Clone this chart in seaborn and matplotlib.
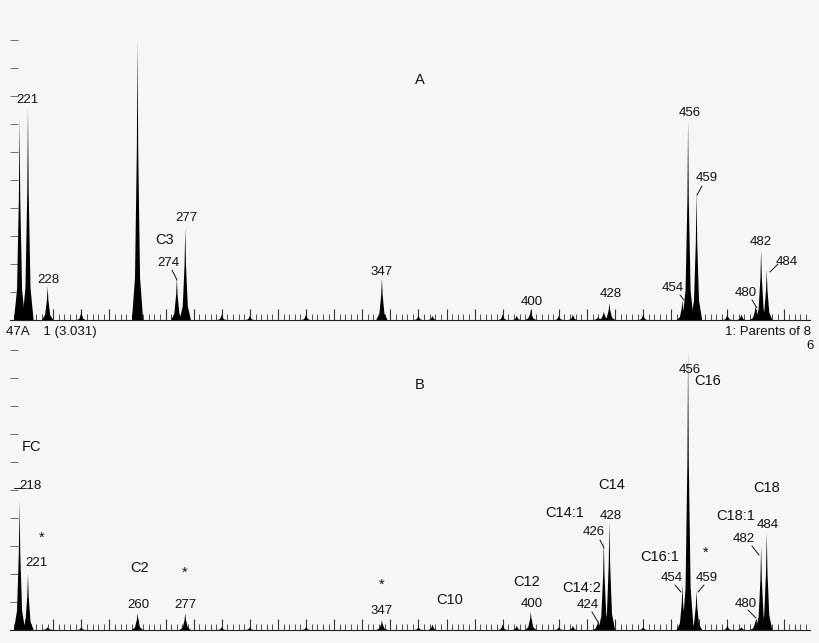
import matplotlib
matplotlib.use("Agg")
import matplotlib.pyplot as plt
import seaborn as sns
import numpy as np

sns.set_style("white")
plt.rcParams['font.family'] = ['Liberation Sans', 'DejaVu Sans']

mz = [218, 221, 228, 260, 274, 277, 347, 400, 424, 426, 428, 454, 456, 459, 480, 482, 484]
int_a = [0.72, 0.76, 0.12, 1.0, 0.15, 0.33, 0.15, 0.035, 0.01, 0.03, 0.06, 0.07, 0.71, 0.46, 0.05, 0.25, 0.18]
int_b = [0.46, 0.20, 0.01, 0.06, 0.0, 0.06, 0.035, 0.065, 0.035, 0.32, 0.39, 0.16, 1.0, 0.14, 0.035, 0.30, 0.35]
noise_mz = [240, 290, 300, 320, 360, 365, 390, 395, 410, 415, 440, 470, 475]
noise_a = [0.03, 0.02, 0.015, 0.02, 0.015, 0.015, 0.02, 0.015, 0.015, 0.02, 0.02, 0.02, 0.02]
noise_b = [0.01, 0.01, 0.01, 0.01, 0.01, 0.02, 0.02, 0.015, 0.01, 0.015, 0.01, 0.015, 0.01]

W, H = 820, 643
bg = '#f6f6f6'
fig = plt.figure(figsize=(W / 100, H / 100), dpi=100, facecolor=bg)

def ax_at(top, base):
    ax = fig.add_axes([10 / W, (H - base) / H, 800 / W, (base - top) / H])
    ax.set_facecolor(bg)
    ax.set_xlim(214.6, 499.4)
    ax.set_ylim(0, 1)
    for s in ['top', 'right', 'left']:
        ax.spines[s].set_visible(False)
    ax.spines['bottom'].set_color('#222')
    ax.set_xticks(np.arange(220, 500, 10))
    ax.set_xticks(np.arange(216, 500, 2), minor=True)
    ax.tick_params(axis='x', which='major', direction='in', length=8, width=0.8,
                   labelbottom=False, color='#333', bottom=True)
    ax.tick_params(axis='x', which='minor', direction='in', length=4, width=0.6,
                   color='#333', bottom=True)
    ax.set_yticks(np.arange(0.1, 1.01, 0.1))
    ax.tick_params(axis='y', direction='in', length=6, width=0.6, labelleft=False,
                   color='#555', left=True)
    return ax

def peaks(ax, xs, ys, w):
    for x, y in zip(xs, ys):
        if y > 0:
            ax.fill([x - w, x - w * 0.45, x - 0.25, x, x + 0.25, x + w * 0.45, x + w],
                    [0, y * 0.15, y * 0.6, y, y * 0.6, y * 0.15, 0], color='black', lw=0)

ax_a = ax_at(40, 320)
ax_b = ax_at(350, 630)
for ax, ii, nn in [(ax_a, int_a, noise_a), (ax_b, int_b, noise_b)]:
    peaks(ax, mz, ii, 2.0)
    peaks(ax, noise_mz, nn, 1.5)

def t(x, y, s, size=9.5, ha='center'):
    fig.text(x / W, 1 - y / H, s, fontsize=size, ha=ha, va='center', color='#111')

def ln(x0, y0, x1, y1):
    fig.add_artist(plt.Line2D([x0 / W, x1 / W], [1 - y0 / H, 1 - y1 / H], color='#111', lw=0.7))

# panel A
t(420, 80, 'A', 10.5)
for x, y, s in [(27, 100, '221'), (48, 280, '228'), (168, 263, '274'), (186, 218, '277'),
                (382, 272, '347'), (532, 302, '400'), (611, 294, '428'), (673, 288, '454'),
                (690, 113, '456'), (707, 178, '459'), (746, 293, '480'), (761, 242, '482'),
                (787, 262, '484')]:
    t(x, y, s)
t(165, 240, 'C3', 10.5)
ln(172, 270, 177, 280); ln(680, 295, 684, 300); ln(702, 186, 697, 195)
ln(752, 300, 757, 308); ln(778, 264, 770, 272)
t(6, 332, '47A    1 (3.031)', 9.5, 'left')
t(811, 332, '1: Parents of 8', 9.5, 'right')
t(806, 346, '6', 9.5, 'left')

# panel B
t(420, 385, 'B', 10.5)
t(32, 447, 'FC', 10.5)
t(30, 486, '218'); ln(14, 488, 21, 488)
for x, y, s in [(36, 563, '221'), (138, 605, '260'), (185, 605, '277'), (382, 611, '347'),
                (532, 604, '400'), (588, 605, '424'), (594, 532, '426'), (611, 516, '428'),
                (672, 578, '454'), (690, 370, '456'), (707, 578, '459'), (746, 604, '480'),
                (744, 539, '482'), (768, 525, '484')]:
    t(x, y, s)
for x, y, s in [(140, 568, 'C2'), (450, 600, 'C10'), (527, 582, 'C12'), (565, 513, 'C14:1'),
                (612, 485, 'C14'), (582, 588, 'C14:2'), (708, 381, 'C16'), (660, 557, 'C16:1'),
                (736, 516, 'C18:1'), (767, 488, 'C18')]:
    t(x, y, s, 10.5)
for x, y in [(42, 538), (185, 573), (382, 585), (706, 553)]:
    t(x, y, '*', 10.5)
ln(592, 612, 598, 622); ln(600, 540, 604, 548); ln(675, 585, 681, 592)
ln(704, 585, 698, 592); ln(748, 610, 756, 618); ln(752, 546, 759, 555)

fig.savefig('out.png', dpi=100, facecolor=bg)
